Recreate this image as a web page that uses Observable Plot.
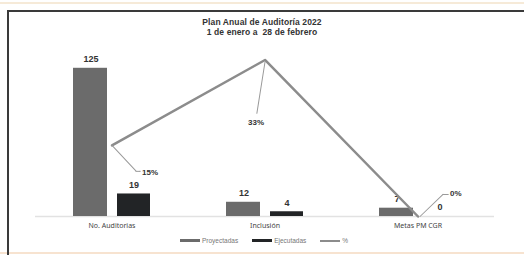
<!DOCTYPE html>
<html>
<head>
<meta charset="utf-8">
<script src="https://cdn.jsdelivr.net/npm/d3@7"></script>
<script src="https://cdn.jsdelivr.net/npm/@observablehq/plot@0.6"></script>
<style>
  html, body { margin: 0; padding: 0; background: #fff; }
  #wrap { position: relative; width: 524px; height: 255px; overflow: hidden; background: #fff; font-family: "Liberation Sans", Arial, sans-serif; }
  #wrap svg { position: absolute; left: 0; top: 0; }
  #frame { position: absolute; left: 7px; top: 10px; width: 530px; height: 260px; border-left: 2px solid #3a3a3a; border-top: 2px solid #3a3a3a; box-sizing: border-box; }
  #topline { position: absolute; left: 0; top: 2px; width: 524px; height: 2px; background: #f6ead8; }
  #botline { position: absolute; left: 0; top: 252px; width: 524px; height: 2px; background: #f7e3d0; }
  #title { position: absolute; left: 0; width: 524px; top: 17px; text-align: center; font-size: 8.5px; line-height: 10px; color: #333; font-weight: bold; letter-spacing: 0.1px; }
  #legend { position: absolute; top: 237px; left: 180px; font-size: 6.5px; color: #777; display: flex; align-items: center; white-space: nowrap; }
  .sw { display: inline-block; width: 20px; height: 3px; margin-right: 2px; }
  .item { display: inline-flex; align-items: center; margin-right: 14px; }
</style>
</head>
<body>
<div id="wrap">
  <div id="topline"></div>
  <div id="botline"></div>
  <div id="frame"></div>
  <div id="title">Plan Anual de Auditoría 2022<br>1 de enero a&nbsp; 28 de febrero</div>
  <div id="legend"></div>
</div>
<script>
const categories = ["No. Auditorias", "Inclusión", "Metas PM CGR"];
const proyectadas = [125, 12, 7];
const ejecutadas = [19, 4, 0];
const porcentaje = [15, 33, 0];
const pctLabels = ["15%", "33%", "0%"];
const seriesNames = ["Proyectadas", "Ejecutadas", "%"];
const colors = ["#6b6b6b", "#222426", "#8c8c8c"];

// secondary axis: counts 0–140 vs. percent 0–35
const countMax = 140, pctMax = 35;
const k = countMax / pctMax;

const bars = categories.map((c, i) => ({cat: c, proy: proyectadas[i], ejec: ejecutadas[i], pct: porcentaje[i], pctLabel: pctLabels[i]}));

const labelStyle = {fontSize: 9, fontWeight: "bold", fill: "#333", fontFamily: "Liberation Sans, Arial, sans-serif"};
const leader = {stroke: "#9a9a9a", strokeWidth: 1, r: 0, anchor: "start"};

const chart = Plot.plot({
  width: 524,
  height: 255,
  marginTop: 50,
  marginBottom: 39,
  marginLeft: 35,
  marginRight: 30,
  x: {type: "band", domain: categories, padding: 0},
  y: {domain: [0, countMax], axis: null},
  marks: [
    Plot.ruleY([0], {stroke: "#e2e2e2", strokeWidth: 1.5}),
    Plot.barY(bars, {x: "cat", y: "proy", fill: colors[0], insetLeft: 38, insetRight: 81}),
    Plot.barY(bars, {x: "cat", y: "ejec", fill: colors[1], insetLeft: 82, insetRight: 38}),
    Plot.text(bars, {x: "cat", y: "proy", text: d => String(d.proy), dx: -21, dy: -9, ...labelStyle}),
    Plot.text(bars, {x: "cat", y: "ejec", text: d => String(d.ejec), dx: 22, dy: -9, ...labelStyle}),
    Plot.lineY(bars, {x: "cat", y: d => d.pct * k, stroke: colors[2], strokeWidth: 2.5}),
    // leader lines for percent labels
    Plot.vector(bars.filter((d, i) => i === 0), {x: "cat", y: d => d.pct * k, rotate: 137, length: 35, ...leader}),
    Plot.vector(bars.filter((d, i) => i === 0), {x: "cat", y: d => d.pct * k, dx: 24, dy: 26, rotate: 90, length: 4, ...leader}),
    Plot.vector(bars.filter((d, i) => i === 1), {x: "cat", y: d => d.pct * k, dy: 2, rotate: 189, length: 52, ...leader}),
    Plot.vector(bars.filter((d, i) => i === 2), {x: "cat", y: d => d.pct * k, dx: 2, rotate: 46, length: 32, ...leader}),
    Plot.vector(bars.filter((d, i) => i === 2), {x: "cat", y: d => d.pct * k, dx: 25, dy: -22, rotate: 90, length: 5, ...leader}),
    Plot.text(bars.filter((d, i) => i === 0), {x: "cat", y: d => d.pct * k, text: "pctLabel", dx: 30, dy: 27, textAnchor: "start", ...labelStyle, fontSize: 8}),
    Plot.text(bars.filter((d, i) => i === 1), {x: "cat", y: d => d.pct * k, text: "pctLabel", dx: -9, dy: 62, ...labelStyle, fontSize: 8}),
    Plot.text(bars.filter((d, i) => i === 2), {x: "cat", y: d => d.pct * k, text: "pctLabel", dx: 32, dy: -23, textAnchor: "start", ...labelStyle, fontSize: 8}),
    Plot.axisX({tickSize: 0, tickPadding: 7, fontSize: 7, fill: "#444", label: null})
  ]
});
document.getElementById("wrap").insertBefore(chart, document.getElementById("topline"));

const legend = document.getElementById("legend");
seriesNames.forEach((name, i) => {
  const item = document.createElement("span");
  item.className = "item";
  const sw = document.createElement("span");
  sw.className = "sw";
  sw.style.background = colors[i];
  sw.style.height = i === 2 ? "2px" : "3px";
  item.appendChild(sw);
  item.appendChild(document.createTextNode(name));
  legend.appendChild(item);
});
</script>
</body>
</html>
